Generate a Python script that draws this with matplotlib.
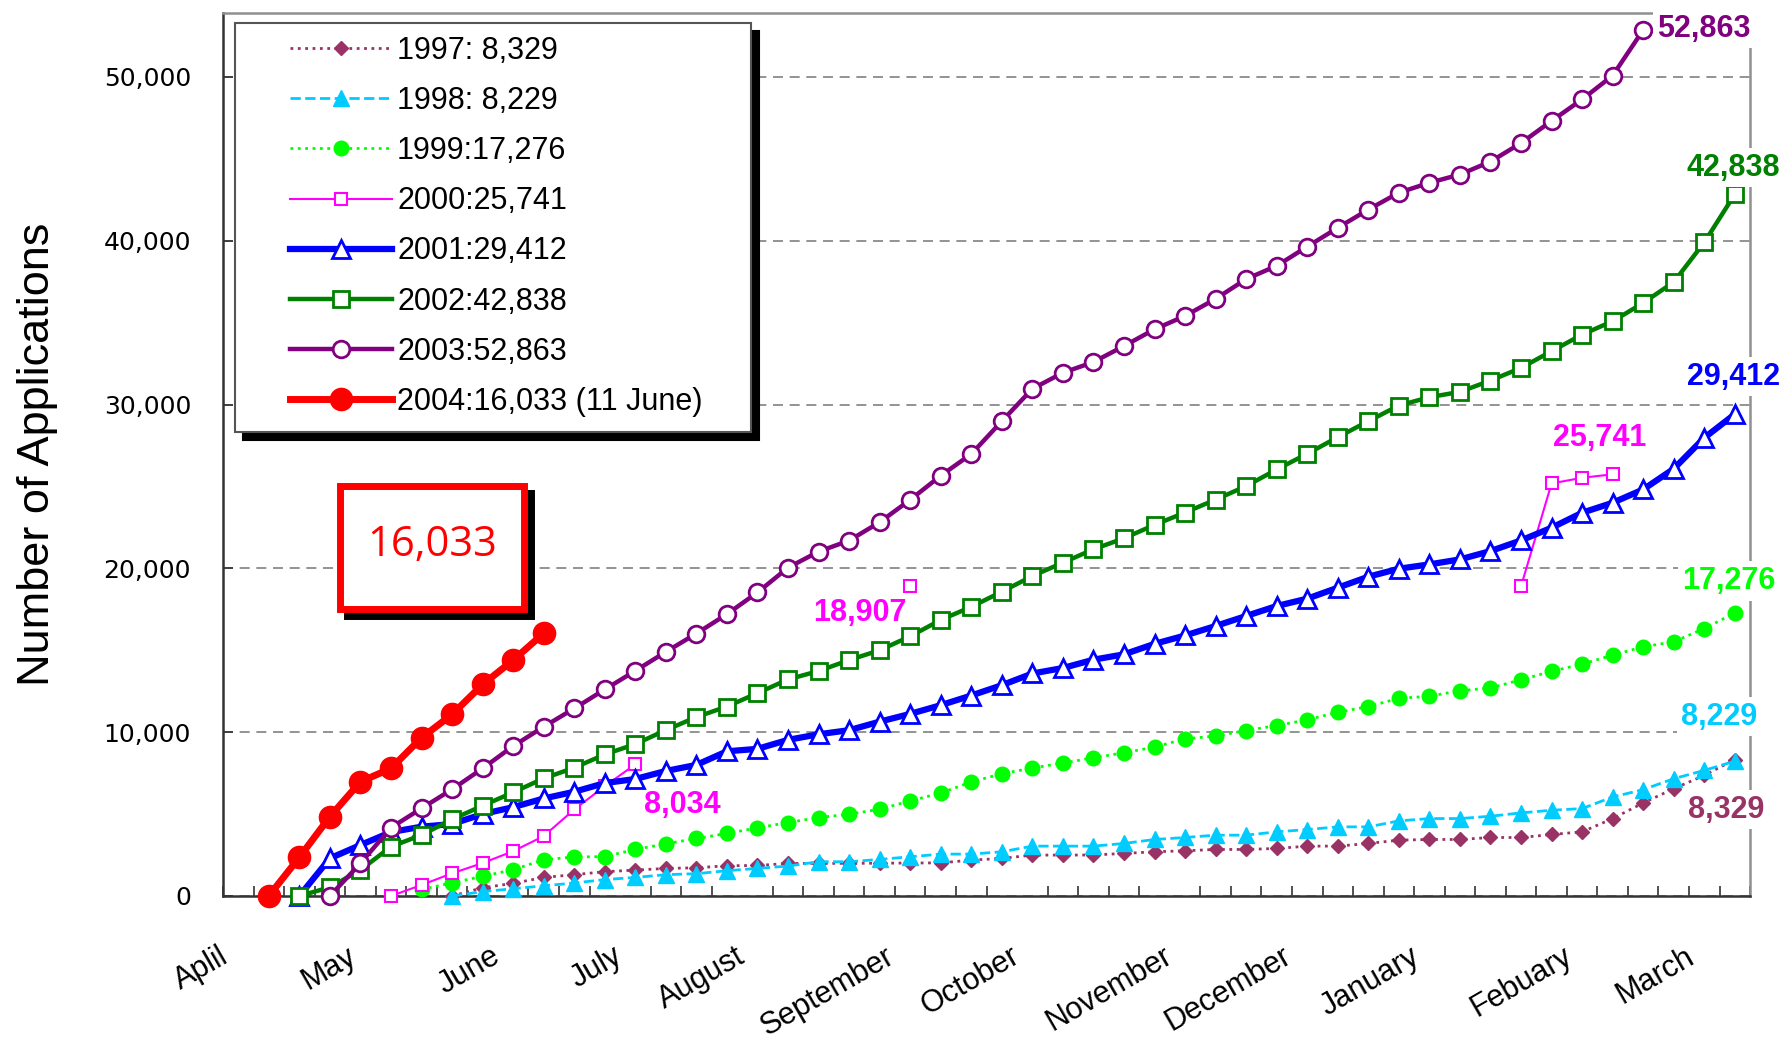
import numpy as np
import matplotlib
matplotlib.use("Agg")
import matplotlib.pyplot as plt
from matplotlib.patches import Rectangle
from matplotlib.transforms import offset_copy
from matplotlib.ticker import FuncFormatter

nan = np.nan

# weekly cumulative counts, week 0 = start of April
months = ["Aplil", "May", "June", "July", "August", "September", "October",
          "November", "December", "January", "Febuary", "March"]
month_pos = [-0.4, 3.8, 8.5, 12.5, 16.5, 21.4, 25.5, 30.5, 34.4, 38.6, 43.6, 47.6]
n_weeks = 50

start_1997 = 7
v1997 = [0, 500, 770, 1130, 1300, 1480, 1580, 1680, 1720, 1846, 1860, 1987, 1990,
         1990, 2000, 2010, 2020, 2190, 2292, 2494, 2494, 2500, 2596, 2697, 2758,
         2839, 2839, 2900, 3042, 3042, 3204, 3407, 3448, 3448, 3569, 3569, 3752,
         3914, 4725, 5678, 6550, 7362, 8329]

start_1998 = 7
v1998 = [0, 264, 440, 620, 790, 1000, 1130, 1300, 1360, 1541, 1683, 1825, 2089,
         2089, 2231, 2393, 2555, 2555, 2697, 3042, 3042, 3042, 3204, 3448, 3569,
         3711, 3711, 3914, 4056, 4218, 4218, 4583, 4725, 4725, 4867, 5070, 5232,
         5334, 6043, 6490, 7159, 7666, 8229]

start_1999 = 6
v1999 = [400, 800, 1200, 1600, 2210, 2380, 2400, 2840, 3180, 3510, 3813, 4157,
         4482, 4786, 4989, 5293, 5800, 6287, 6956, 7463, 7808, 8112, 8437, 8741,
         9085, 9592, 9760, 10100, 10400, 10750, 11215, 11560, 12065, 12190, 12530,
         12695, 13200, 13710, 14155, 14700, 15210, 15515, 16325, 17276]

start_2000 = 5
v2000 = [0, 670, 1380, 2010, 2730, 3655, 5280, 6700, 8034,
         nan, nan, nan, nan, nan, nan, nan, nan,
         18907,
         nan, nan, nan, nan, nan, nan, nan, nan, nan, nan, nan, nan, nan, nan,
         nan, nan, nan, nan, nan,
         18907, 25182, 25527, 25741]

start_2001 = 2
v2001 = [0, 2297, 3110, 3900, 4229, 4391, 5000, 5420, 5950, 6360, 6890, 7140,
         7630, 8000, 8830, 8980, 9530, 9870, 10120, 10640, 11115, 11645, 12236,
         12866, 13580, 13915, 14423, 14750, 15390, 15900, 16480, 17091, 17700,
         18148, 18818, 19489, 19977, 20241, 20546, 21055, 21705, 22478, 23393,
         24003, 24816, 26076, 27967, 29412]

start_2002 = 2
v2002 = [0, 529, 1586, 3009, 3720, 4676, 5509, 6323, 7176, 7827, 8640, 9270,
         10124, 10920, 11565, 12380, 13220, 13730, 14400, 15000, 15850, 16850,
         17650, 18570, 19530, 20346, 21163, 21836, 22652, 23407, 24195, 25019,
         26036, 26991, 28008, 28983, 29939, 30447, 30772, 31464, 32236, 33253,
         34270, 35083, 36200, 37476, 39900, 42838]

start_2003 = 3
v2003 = [0, 1992, 4168, 5347, 6506, 7786, 9149, 10328, 11446, 12605, 13743,
         14902, 16020, 17203, 18530, 20040, 21020, 21693, 22816, 24183, 25653,
         26979, 28980, 30959, 31939, 32592, 33572, 34592, 35409, 36450, 37658,
         38466, 39637, 40789, 41900, 42930, 43536, 44041, 44829, 45960, 47313,
         48626, 50081, 52863]

start_2004 = 1
v2004 = [0, 2358, 4839, 6973, 7786, 9657, 11080, 12910, 14394, 16033]

font = "Liberation Sans"

fig = plt.figure(figsize=(17.84, 10.40), dpi=100)
ax = fig.add_axes([0.125, 0.1385, 0.856, 0.849])

series = [
    ("1997", start_1997, v1997, "", dict(color="#993366", ls=":", lw=2, marker="D", ms=7.5,
                                      mfc="#993366", mec="#993366")),
    ("1998", start_1998, v1998, "", dict(color="#00CCFF", ls="--", lw=2, marker="^", ms=12,
                                      mfc="#00CCFF", mec="#00CCFF")),
    ("1999", start_1999, v1999, "", dict(color="#00FF00", ls=":", lw=2, marker="o", ms=10.5,
                                      mfc="#00FF00", mec="#00FF00")),
    ("2000", start_2000, v2000, "", dict(color="#FF00FF", ls="-", lw=1.5, marker="s", ms=8.5,
                                      mfc="white", mec="#FF00FF", mew=1.5)),
    ("2001", start_2001, v2001, "", dict(color="#0000FF", ls="-", lw=4.5, marker="^", ms=13,
                                      mfc="white", mec="#0000FF", mew=2)),
    ("2002", start_2002, v2002, "", dict(color="#008000", ls="-", lw=3.2, marker="s", ms=11.5,
                                      mfc="white", mec="#008000", mew=2)),
    ("2003", start_2003, v2003, "", dict(color="#800080", ls="-", lw=3.2, marker="o", ms=12,
                                      mfc="white", mec="#800080", mew=2)),
    ("2004", start_2004, v2004, " (11 June)", dict(color="#FF0000", ls="-", lw=5, marker="o",
                                                ms=16, mfc="#FF0000", mec="#FF0000")),
]

for yr, start, vals, extra, style in series:
    x = np.arange(start, start + len(vals))
    total = [v for v in vals if v == v][-1]
    ax.plot(x, vals, label=f"{yr}:{total:6,}{extra}", clip_on=False, zorder=3, **style)

ax.set_xlim(-0.5, n_weeks - 0.5)
ax.set_ylim(0, 53900)

# week boundaries as inward ticks, month names as rotated labels
ax.set_xticks(np.arange(-0.5, n_weeks, 1), minor=True)
ax.set_xticks(month_pos)
ax.set_xticklabels(months, rotation=30, ha="right", va="center",
                   rotation_mode="anchor", fontsize=22, family=font)
ax.tick_params(axis="x", which="major", length=0, pad=42)
ax.tick_params(axis="x", which="minor", direction="in", length=7, width=1.2, color="#333333")

ax.set_yticks(range(0, 50001, 10000))
ax.yaxis.set_major_formatter(FuncFormatter(lambda v, p: f"{int(v):,}"))
ax.tick_params(axis="y", direction="in", length=7, width=1.2, pad=23,
               labelsize=18, color="#333333")
for lab in ax.get_yticklabels():
    lab.set_family("DejaVu Sans")

ax.set_axisbelow(True)
ax.grid(axis="y", ls=(0, (6, 4)), color="#808080", lw=1.2)

for s in ["left", "bottom"]:
    ax.spines[s].set_color("#333333")
    ax.spines[s].set_linewidth(1.8)
for s in ["top", "right"]:
    ax.spines[s].set_color("#909090")
    ax.spines[s].set_linewidth(1.8)

ax.set_ylabel("Number of Applications", family=font, fontsize=32.5)
ax.yaxis.set_label_coords(-0.108, 0.5)

# legend box with hard black shadow
lx0, ly0, lw_, lh_ = 0.1320, 0.5842, 0.2890, 0.3939
ax.add_patch(Rectangle((lx0, ly0), lw_, lh_, fc="black", ec="black", lw=1.5,
                       transform=offset_copy(fig.transFigure, fig, x=8, y=-8, units="dots"),
                       clip_on=False, zorder=5))
ax.add_patch(Rectangle((lx0, ly0), lw_, lh_, fc="white", ec="#555555", lw=1.5,
                       transform=fig.transFigure, clip_on=False, zorder=5.1))
leg = ax.legend(loc="upper left", bbox_to_anchor=(0.1626, 0.9656),
                bbox_transform=fig.transFigure, frameon=False,
                prop=dict(family=font, size=22),
                handlelength=3.35, handletextpad=0.15, labelspacing=0.66,
                borderpad=0, borderaxespad=0)
leg.set_zorder(6)

# boxed 2004 total
bx0, by0, bw, bh = 0.0768, 0.3255, 0.1200, 0.1390
ax.add_patch(Rectangle((bx0, by0), bw, bh, fc="black", ec="black", lw=5,
                       transform=offset_copy(ax.transAxes, fig, x=7, y=-7, units="dots"),
                       zorder=5))
ax.add_patch(Rectangle((bx0, by0), bw, bh, fc="white", ec="#FF0000", lw=5,
                       transform=ax.transAxes, zorder=5.1))
ax.text(bx0 + bw / 2, by0 + bh / 2 + 0.003, f"{v2004[-1]:,}", transform=ax.transAxes,
        ha="center", va="center", color="#FF0000", fontsize=30, family="Open Sans",
        zorder=6)

# value labels next to points
def label(start, vals, idx, color, dx, dy, ha="center", box=True):
    v = vals[idx - start]
    kw = dict(boxstyle="square,pad=0.15", fc="white", ec="none") if box else None
    ax.annotate(f"{v:,}", xy=(idx, v), xytext=(dx, dy), textcoords="offset points",
                ha=ha, va="center", color=color, fontsize=22,
                family=font, fontweight="bold", bbox=kw, zorder=7,
                annotation_clip=False)

label(start_2003, v2003, 46, "#800080", 10, 1, ha="left")
label(start_2002, v2002, 49, "#008000", -1, 19)
label(start_2001, v2001, 49, "#0000FF", -1, 27)
label(start_2000, v2000, 45, "#FF00FF", -9, 26, box=False)
label(start_1999, v1999, 49, "#00FF00", -4, 23)
label(start_1998, v1998, 49, "#00CCFF", -11, 32)
label(start_1997, v1997, 49, "#993366", -6, -36)
label(start_2000, v2000, 22, "#FF00FF", -36, -19, box=False)
label(start_2000, v2000, 13, "#FF00FF", 34, -29, box=False)

fig.savefig("out.png", dpi=100)
